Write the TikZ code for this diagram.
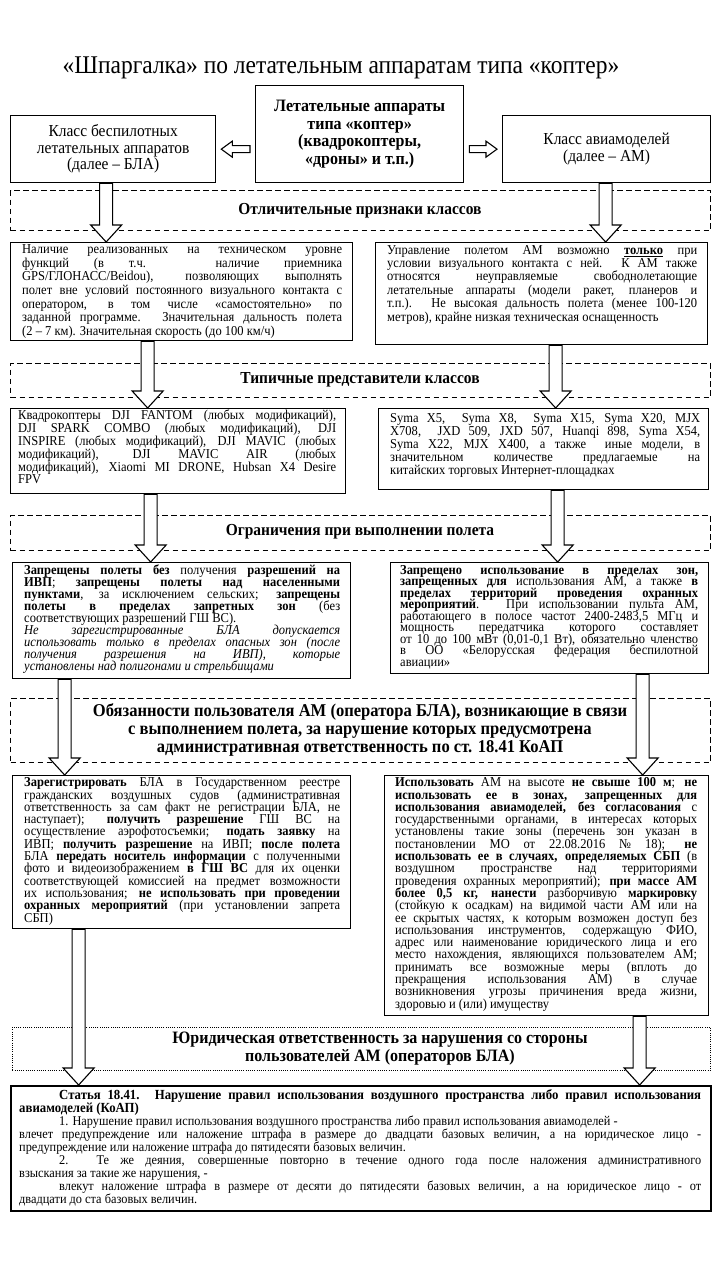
\documentclass[tikz,border=0pt]{standalone}
\usepackage{fontspec}
\setmainfont{Liberation Serif}[FakeStretch=0.92]
\usetikzlibrary{calc}
\newcommand\bodyfont{\fontsize{13.6}{13.4}\selectfont}
\newcommand\headfont{\fontsize{16.8}{18}\selectfont\bfseries}
\newcommand\blockdown[2]{%
  \draw[barrow] let \p1=(#1), \p2=(#2) in
    (\x1-6.5pt,\y1) -- (\x1-6.5pt,\y2+17pt) -- (\x1-15.5pt,\y2+17pt) -- (\x1,\y2)
    -- (\x1+15.5pt,\y2+17pt) -- (\x1+6.5pt,\y2+17pt) -- (\x1+6.5pt,\y1) -- cycle;}
\newcommand\blockside[2]{%
  \draw[barrow] let \p1=(#1), \p2=(#2), \n1={\x2>\x1 ? 1 : -1} in
    (\x1,\y2+3.5pt) -- (\x2-\n1*11pt,\y2+3.5pt) -- (\x2-\n1*11pt,\y2+8pt) -- (\x2,\y2)
    -- (\x2-\n1*11pt,\y2-8pt) -- (\x2-\n1*11pt,\y2-3.5pt) -- (\x1,\y2-3.5pt) -- cycle;}
\tikzset{
  box/.style={draw, line width=1.3pt, fill=white, inner sep=0pt, anchor=north west},
  dbox/.style={draw, line width=1.2pt, dash pattern=on 5.5pt off 3.5pt, inner sep=0pt, anchor=north west},
  dotbox/.style={draw, line width=0.9pt, dash pattern=on 1pt off 1.2pt, inner sep=0pt, anchor=north west},
  txt/.style={inner sep=0pt, anchor=north west, align=justify, font=\bodyfont,
    execute at begin node={\lineskiplimit=-50pt\lineskip=0pt}},
  head/.style={inner sep=0pt, align=center, font=\headfont},
  barrow/.style={draw, line width=1.1pt, fill=white, line join=miter},
}
\begin{document}
\begin{tikzpicture}[x=1pt,y=-1pt]
\fill[white] (0,0) rectangle (720,1280);
\useasboundingbox (0,0) rectangle (720,1280);

% title
\node[inner sep=0pt, font=\fontsize{25.5}{28}\selectfont] (title) at (341,68) {«Шпаргалка» по летательным аппаратам типа «коптер»};

% top row
\node[box, minimum width=208pt, minimum height=97pt] (center) at (255,85) {};
\node[inner sep=0pt, align=center, font=\fontsize{17.4}{17.5}\selectfont\bfseries] (centert) at (center.center) {Летательные аппараты\\типа «коптер»\\(квадрокоптеры,\\«дроны» и т.п.)};
\node[box, minimum width=205pt, minimum height=67pt] (bla) at (10,115) {};
\node[inner sep=0pt, align=center, font=\fontsize{16.8}{16.5}\selectfont] (blat) at (bla.center) {Класс беспилотных\\летательных аппаратов\\(далее – БЛА)};
\node[box, minimum width=208pt, minimum height=67pt] (am) at (502,115) {};
\node[inner sep=0pt, align=center, font=\fontsize{16.8}{16.5}\selectfont] (amt) at (am.center) {Класс авиамоделей\\(далее – АМ)};
\blockside{[xshift=-5pt]center.west}{[xshift=5pt]bla.east}
\blockside{[xshift=5pt]center.east}{[xshift=-5pt]am.west}

% section 1
\node[dbox, minimum width=700pt, minimum height=40pt] (d1) at (10,190) {};
\node[head] (d1t) at (360,211) {Отличительные признаки классов};
\node[box, minimum width=342pt, minimum height=98pt] (featL) at (10,242) {};
\node[txt, text width=320pt, font=\fontsize{13.6}{13.6}\selectfont] (featLt) at (22,244.5) {Наличие реализованных на техническом уровне\linebreak
функций (в т.ч. наличие приемника\linebreak
GPS/ГЛОНАСС/Beidou), позволяющих выполнять\linebreak
полет вне условий постоянного визуального контакта с\linebreak
оператором, в том числе «самостоятельно» по\linebreak
заданной программе. Значительная дальность полета\linebreak
(2 – 7 км). Значительная скорость (до 100 км/ч)};
\node[box, minimum width=332pt, minimum height=102pt] (featR) at (375,242) {};
\node[txt, text width=310pt] (featRt) at (387,245) {Управление полетом АМ возможно \underline{\textbf{только}} при\linebreak
условии визуального контакта с ней. К АМ также\linebreak
относятся неуправляемые свободнолетающие\linebreak
летательные аппараты (модели ракет, планеров и\linebreak
т.п.). Не высокая дальность полета (менее 100-120\linebreak
метров), крайне низкая техническая оснащенность};
\blockdown{[xshift=-7pt]bla.south}{featL.north}
\blockdown{[xshift=-1pt]am.south}{featR.north}

% section 2
\node[dbox, minimum width=700pt, minimum height=34pt] (d2) at (10,363) {};
\node[head] (d2t) at (360,380) {Типичные представители классов};
\node[box, minimum width=335pt, minimum height=85pt] (repL) at (10,408) {};
\node[txt, text width=318pt, font=\fontsize{13.6}{12.8}\selectfont] (repLt) at (18,410) {Квадрокоптеры DJI FANTOM (любых модификаций),\linebreak
DJI SPARK COMBO (любых модификаций), DJI\linebreak
INSPIRE (любых модификаций), DJI MAVIC (любых\linebreak
модификаций), DJI MAVIC AIR (любых\linebreak
модификаций), Xiaomi MI DRONE, Hubsan X4 Desire\linebreak
FPV};
\node[box, minimum width=330pt, minimum height=81pt] (repR) at (378,408) {};
\node[txt, text width=310pt, font=\fontsize{13.6}{13}\selectfont] (repRt) at (390,413) {Syma X5,\ \ Syma X8,\ \ Syma X15, Syma X20, MJX\linebreak
X708,\ \ JXD 509, JXD 507, Huanqi 898, Syma X54,\linebreak
Syma X22, MJX X400, а также\ \ иные модели, в\linebreak
значительном количестве предлагаемые на\linebreak
китайских торговых Интернет-площадках};
\blockdown{[xshift=-34pt]featL.south}{repL.north}
\blockdown{[xshift=14pt]featR.south}{repR.north}

% section 3
\node[dbox, minimum width=700pt, minimum height=35pt] (d3) at (10,515) {};
\node[head] (d3t) at (360,532) {Ограничения при выполнении полета};
\node[box, minimum width=338pt, minimum height=116pt] (limL) at (12,562) {};
\node[txt, text width=316pt, font=\fontsize{13.6}{12}\selectfont] (limLt) at (24,565) {\textbf{Запрещены полеты без} получения \textbf{разрешений на\linebreak
ИВП}; \textbf{запрещены полеты над населенными\linebreak
пунктами}, за исключением сельских; \textbf{запрещены\linebreak
полеты в пределах запретных зон} (без\linebreak
соответствующих разрешений ГШ ВС).\par
\textit{Не зарегистрированные БЛА допускается\linebreak
использовать только в пределах опасных зон (после\linebreak
получения разрешения на ИВП), которые\linebreak
установлены над полигонами и стрельбищами}};
\node[box, minimum width=318pt, minimum height=111pt] (limR) at (390,562) {};
\node[txt, text width=298pt, font=\fontsize{13.6}{11.5}\selectfont] (limRt) at (400,565) {\textbf{Запрещено использование в пределах зон,\linebreak
запрещенных для} использования АМ, а также \textbf{в\linebreak
пределах территорий проведения охранных\linebreak
мероприятий}. При использовании пульта АМ,\linebreak
работающего в полосе частот 2400-2483,5 МГц и\linebreak
мощность передатчика которого составляет\linebreak
от 10 до 100 мВт (0,01-0,1 Вт), обязательно членство\linebreak
в ОО «Белорусская федерация беспилотной\linebreak
авиации»};
\blockdown{[xshift=-27.5pt]repL.south}{limL.north}
\blockdown{[xshift=14pt]repR.south}{limR.north}

% section 4
\node[dbox, minimum width=700pt, minimum height=64pt] (d4) at (10,698) {};
\node[head, font=\fontsize{18}{18}\selectfont\bfseries] (d4t) at (360,730) {Обязанности пользователя АМ (оператора БЛА), возникающие в связи\\с выполнением полета, за нарушение которых предусмотрена\\административная ответственность по ст. 18.41 КоАП};
\node[box, minimum width=338pt, minimum height=153pt] (dutL) at (12,775) {};
\node[txt, text width=316pt, font=\fontsize{13.6}{12.3}\selectfont] (dutLt) at (24,777.5) {\textbf{Зарегистрировать} БЛА в Государственном реестре\linebreak
гражданских воздушных судов (административная\linebreak
ответственность за сам факт не регистрации БЛА, не\linebreak
наступает); \textbf{получить разрешение} ГШ ВС на\linebreak
осуществление аэрофотосъемки; \textbf{подать заявку} на\linebreak
ИВП; \textbf{получить разрешение} на ИВП; \textbf{после полета}\linebreak
БЛА \textbf{передать носитель информации} с полученными\linebreak
фото и видеоизображением \textbf{в ГШ ВС} для их оценки\linebreak
соответствующей комиссией на предмет возможности\linebreak
их использования; \textbf{не использовать при проведении\linebreak
охранных мероприятий} (при установлении запрета\linebreak
СБП)};
\node[box, minimum width=324pt, minimum height=240pt] (dutR) at (384,775) {};
\node[txt, text width=302pt, font=\fontsize{13.6}{12.3}\selectfont] (dutRt) at (395,777.5) {\textbf{Использовать} АМ на высоте \textbf{не свыше 100 м}; \textbf{не\linebreak
использовать ее в зонах, запрещенных для\linebreak
использования авиамоделей, без согласования} с\linebreak
государственными органами, в интересах которых\linebreak
установлены такие зоны (перечень зон указан в\linebreak
постановлении МО от 22.08.2016 № 18); \textbf{не\linebreak
использовать ее в случаях, определяемых СБП} (в\linebreak
воздушном пространстве над территориями\linebreak
проведения охранных мероприятий); \textbf{при массе АМ\linebreak
более 0,5 кг, нанести} разборчивую \textbf{маркировку}\linebreak
(стойкую к осадкам) на видимой части АМ или на\linebreak
ее скрытых частях, к которым возможен доступ без\linebreak
использования инструментов, содержащую ФИО,\linebreak
адрес или наименование юридического лица и его\linebreak
место нахождения, являющихся пользователем АМ;\linebreak
принимать все возможные меры (вплоть до\linebreak
прекращения использования АМ) в случае\linebreak
возникновения угрозы причинения вреда жизни,\linebreak
здоровью и (или) имуществу};
\blockdown{[xshift=-117pt]limL.south}{dutL.north}
\blockdown{[xshift=93pt]limR.south}{dutR.north}

% section 5
\node[dotbox, minimum width=698pt, minimum height=43pt] (d5) at (12,1027) {};
\node[head, font=\fontsize{17.4}{18}\selectfont\bfseries] (d5t) at (380,1049) {Юридическая ответственность за нарушения со стороны\\пользователей АМ (операторов БЛА)};
\node[box, line width=1.8pt, minimum width=700pt, minimum height=125pt] (art) at (10,1085) {};
\node[txt, text width=682pt, font=\fontsize{13.4}{13}\selectfont] (artt) at (19,1089) {\hspace*{40pt}{\fontsize{13.9}{13}\selectfont\textbf{Статья 18.41. Нарушение правил использования воздушного пространства либо правил использования\linebreak
авиамоделей (КоАП)}}\par
\hspace*{40pt}1. Нарушение правил использования воздушного пространства либо правил использования авиамоделей -\par
влечет предупреждение или наложение штрафа в размере до двадцати базовых величин, а на юридическое лицо -\linebreak
предупреждение или наложение штрафа до пятидесяти базовых величин.\par
\hspace*{40pt}2. Те же деяния, совершенные повторно в течение одного года после наложения административного\linebreak
взыскания за такие же нарушения, -\par
\hspace*{40pt}влекут наложение штрафа в размере от десяти до пятидесяти базовых величин, а на юридическое лицо - от\linebreak
двадцати до ста базовых величин.};
\blockdown{[xshift=-103pt]dutL.south}{art.north}
\blockdown{[xshift=93pt]dutR.south}{art.north}
\end{tikzpicture}
\end{document}
